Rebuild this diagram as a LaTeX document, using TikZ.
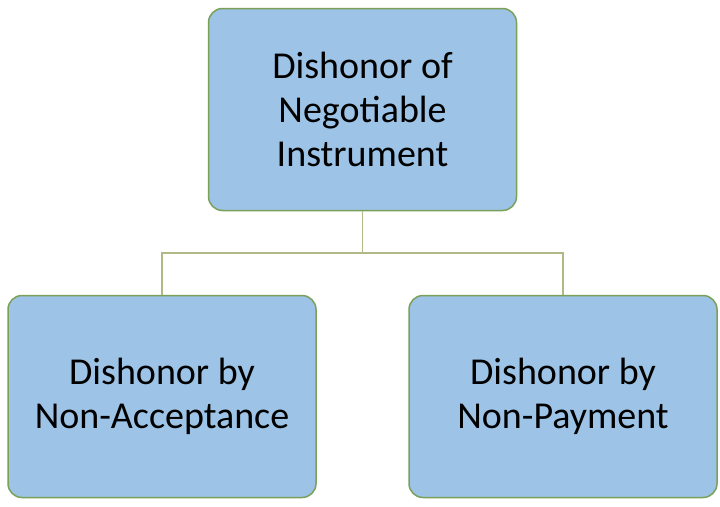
\documentclass[tikz,border=0pt]{standalone}
\usepackage{fontspec}
\setmainfont{Carlito}
\usetikzlibrary{positioning}
\definecolor{boxfill}{HTML}{9DC3E6}
\definecolor{boxline}{HTML}{7AA05A}
\definecolor{linkline}{HTML}{B0B888}

\begin{document}
\begin{tikzpicture}[x=1pt,y=-1pt,
every node/.style = {align=center, font=\fontsize{38}{44}\selectfont},
box/.style={rectangle, rounded corners=14pt, fill=boxfill, draw=boxline,
    line width=1.5pt, minimum width=308pt, minimum height=202pt, inner sep=0pt},
link/.style={linkline, line width=1.5pt}]
\useasboundingbox (0,0) rectangle (720,506);
\node [box] (top) at (362.5,109.5) {Dishonor of\\Negotiable\\Instrument};
\node [box] (accept) at (162,396.5) {Dishonor by\\Non-Acceptance};
\node [box] (pay) at (563,396.5) {Dishonor by\\Non-Payment};
\coordinate (split) at (362.5,253);
\draw [link] (top) -- (split);
\draw [link] (accept.north) |- (split) -| (pay.north);
\end{tikzpicture}
\end{document}
